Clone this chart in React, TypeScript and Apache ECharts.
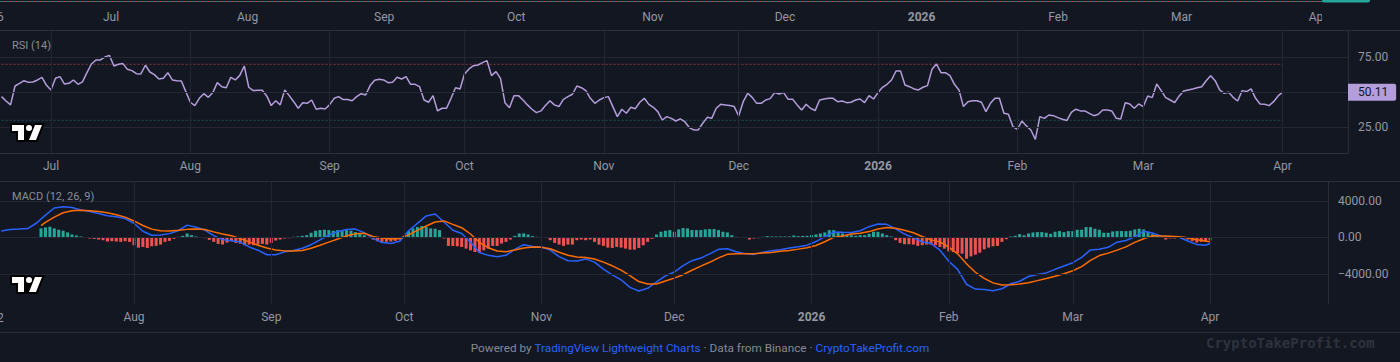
import React, { useEffect, useRef } from 'react';
import * as echarts from 'echarts';

const DAY = 86400000;
const ts = (s: string) => Date.parse(s + 'T00:00:00Z');

// ---------- RSI (14), daily from 2025-06-20 ----------
const RSI_START = '2025-06-20';
const rsiValues = [
  46.9, 43.8, 41.0, 54.5, 56.4, 58.3, 57.1, 57.4, 58.8, 60.7,
  55.0, 51.7, 60.0, 61.2, 55.9, 56.4, 58.8, 55.7, 57.4, 64.0,
  70.2, 73.1, 73.1, 75.2, 76.4, 68.8, 70.0, 70.5, 66.4, 65.5,
  63.3, 63.1, 69.3, 64.5, 62.6, 59.5, 60.0, 64.0, 58.8, 58.3,
  58.1, 50.5, 42.9, 40.5, 45.7, 49.0, 46.4, 49.8, 56.9, 54.0,
  53.3, 60.7, 58.8, 62.1, 68.8, 53.6, 51.2, 51.4, 51.4, 47.4,
  40.5, 44.0, 41.0, 51.7, 47.6, 43.3, 38.6, 42.6, 42.1, 44.5,
  37.9, 38.6, 38.1, 41.2, 45.7, 46.9, 44.8, 44.8, 44.0, 46.9,
  49.0, 48.1, 54.8, 58.6, 59.3, 58.8, 56.9, 57.1, 60.7, 59.5,
  61.2, 55.7, 55.7, 54.0, 44.5, 42.9, 47.6, 36.7, 38.6, 38.6,
  45.7, 53.3, 52.4, 63.1, 66.7, 69.0, 69.5, 71.2, 72.6, 61.9,
  64.8, 60.0, 42.6, 39.0, 47.6, 47.6, 44.5, 41.0, 37.9, 35.5,
  36.7, 40.5, 44.0, 41.0, 39.8, 45.0, 46.9, 48.6, 54.5, 53.3,
  51.2, 45.7, 42.1, 44.5, 46.2, 46.9, 39.8, 32.6, 37.9, 35.0,
  39.3, 38.3, 42.9, 45.7, 41.4, 39.3, 36.2, 30.2, 32.6, 31.4,
  29.5, 31.0, 29.0, 24.8, 23.1, 23.1, 27.9, 32.1, 31.4, 38.6,
  41.4, 41.0, 40.5, 39.8, 33.1, 43.3, 49.3, 46.4, 42.1, 42.1,
  44.5, 45.5, 49.8, 48.8, 49.8, 45.0, 45.0, 41.0, 37.4, 41.4,
  38.6, 36.9, 44.5, 45.2, 45.7, 45.7, 43.3, 43.8, 42.6, 42.9,
  44.5, 45.2, 42.6, 47.6, 45.2, 49.8, 53.6, 55.7, 58.8, 65.2,
  65.2, 55.2, 54.0, 52.4, 51.7, 53.6, 54.8, 66.4, 70.2, 64.0,
  64.0, 61.9, 55.7, 51.7, 39.8, 43.3, 44.0, 44.0, 42.9, 36.2,
  42.1, 45.7, 45.7, 35.0, 34.3, 25.5, 23.6, 29.5, 26.0, 23.1,
  16.4, 32.6, 31.4, 33.8, 33.3, 31.9, 30.7, 29.8, 35.7, 37.9,
  36.7, 36.7, 35.0, 33.3, 34.3, 37.4, 37.4, 36.7, 31.4, 31.0,
  42.6, 41.7, 38.6, 41.7, 39.8, 47.4, 46.2, 55.9, 51.2, 46.2,
  44.5, 42.6, 47.4, 50.9, 51.7, 52.4, 53.3, 54.0, 58.3, 61.9,
  58.3, 51.7, 49.3, 50.0, 46.4, 43.8, 51.2, 50.5, 52.4, 45.7,
  41.7, 41.4, 40.5, 43.3, 47.4, 50.11,
];
const RSI_OVERBOUGHT = 70;
const RSI_OVERSOLD = 30;
const rsiGridValues = [25, 50, 75];
const rsiLabelValues = [25, 75];

// ---------- MACD (12, 26, 9) ----------
const MACD_START = '2025-07-02';
// [days since MACD_START, value]
const macdLine: [number, number][] = [
  [0, 722], [2, 889], [4, 926], [6, 982], [8, 1593], [10, 2459], [12, 3245], [14, 3385], [16, 3304], [18, 3022],
  [20, 2859], [22, 2630], [24, 2400], [26, 2285], [28, 2082], [30, 1567], [32, 682], [34, 244], [36, 267], [38, 426],
  [40, 748], [42, 1359], [44, 1130], [46, 815], [48, 207], [50, -230], [52, -348], [54, -500], [56, -1037], [58, -1393],
  [60, -1896], [62, -1904], [64, -1578], [66, -1426], [68, -1178], [70, -789], [72, -259], [74, 267], [76, 663], [78, 889],
  [80, 926], [82, 541], [84, -93], [86, -556], [88, -648], [90, -419], [92, 737], [94, 1559], [96, 2371], [98, 2582],
  [100, 1708], [102, 800], [104, 444], [106, -522], [108, -1645], [110, -1963], [112, -2104], [114, -1956], [116, -1296], [118, -789],
  [120, -1000], [122, -1037], [124, -1389], [126, -2096], [128, -2556], [130, -2571], [132, -2352], [134, -2711], [136, -3485], [138, -4108],
  [140, -4649], [142, -5486], [144, -5878], [146, -5586], [148, -4867], [150, -4223], [152, -3797], [154, -3100], [156, -2548], [158, -2259],
  [160, -1800], [162, -1304], [164, -1230], [166, -1570], [168, -1771], [170, -1856], [172, -1608], [174, -1463], [176, -1345], [178, -1159],
  [180, -1011], [182, -841], [184, -444], [186, 89], [188, 596], [190, 567], [192, 548], [194, 741], [196, 1189], [198, 1489],
  [200, 1445], [202, 952], [204, 382], [206, -37], [208, -467], [210, -667], [212, -1396], [214, -2611], [216, -3508], [218, -5137],
  [220, -5667], [222, -5715], [224, -5845], [226, -5634], [228, -5082], [230, -4811], [232, -4289], [234, -4060], [236, -3889], [238, -3497],
  [240, -3134], [242, -2771], [244, -2189], [246, -1363], [248, -1289], [250, -1082], [252, -515], [254, -326], [256, 63], [258, 696],
  [260, 489], [262, 148], [264, 74], [266, 22], [268, -389], [270, -778], [272, -852], [273, -667],
];
const signalLine: [number, number][] = [
  [9, 1296], [10, 1652], [12, 2245], [14, 2715], [16, 2941], [18, 2997], [20, 2945], [22, 2867], [24, 2719], [26, 2496],
  [28, 2237], [30, 1819], [32, 1322], [34, 919], [36, 737], [38, 704], [40, 796], [42, 893], [44, 926], [46, 870],
  [48, 619], [50, 396], [52, 204], [54, -122], [56, -478], [58, -848], [60, -1156], [62, -1374], [64, -1470], [66, -1482],
  [68, -1419], [70, -1189], [72, -852], [74, -507], [76, -167], [78, 181], [80, 411], [82, 463], [84, 119], [86, -59],
  [88, -156], [90, -115], [92, 289], [94, 778], [96, 1259], [98, 1704], [100, 1822], [102, 1445], [104, 1074], [106, 385],
  [108, -526], [110, -1122], [112, -1489], [114, -1563], [116, -1385], [118, -1148], [120, -1037], [122, -1063], [124, -1233], [126, -1615],
  [128, -1959], [130, -2148], [132, -2196], [134, -2370], [136, -2704], [138, -3111], [140, -3582], [142, -4182], [144, -4837], [146, -5104],
  [148, -5112], [150, -4786], [152, -4467], [154, -4086], [156, -3597], [158, -3141], [160, -2726], [162, -2234], [164, -1852], [166, -1778],
  [168, -1778], [170, -1778], [172, -1711], [174, -1648], [176, -1508], [178, -1419], [180, -1278], [182, -1119], [184, -874], [186, -463],
  [188, 11], [190, 163], [192, 393], [194, 456], [196, 648], [198, 941], [200, 1111], [202, 1022], [204, 804], [206, 519],
  [208, 111], [210, -263], [212, -482], [214, -1067], [216, -1796], [218, -2885], [220, -3819], [222, -4493], [224, -4986], [226, -5223],
  [228, -5182], [230, -5115], [232, -4967], [234, -4741], [236, -4497], [238, -4252], [240, -3982], [242, -3652], [244, -3193], [246, -2511],
  [248, -1982], [250, -1715], [252, -1385], [254, -1033], [256, -541], [258, -137], [260, 181], [262, 178], [264, 130], [266, 78],
  [268, -19], [270, -241], [272, -389], [273, -482],
];
const HIST_START = '2025-07-11';
const histValues = [
  1000, 1111, 1185, 1000, 852, 741, 556, 333, 222, 111,
  37, -111, -148, -222, -296, -444, -407, -444, -481, -407,
  -481, -852, -1111, -1037, -1148, -963, -926, -778, -481, -370,
  -148, 74, 185, 444, 259, 111, 37, -74, -259, -481,
  -704, -778, -556, -407, -593, -667, -852, -778, -852, -778,
  -704, -778, -593, -333, -222, -111, -74, 74, 111, 185,
  259, 519, 741, 815, 852, 815, 741, 815, 704, 815,
  741, 593, 444, 259, 37, -222, -407, -481, -481, -444,
  -370, -222, 111, 704, 1000, 1148, 1259, 1148, 1000, 963,
  815, -111, -926, -926, -963, -1037, -1222, -1407, -1593, -1667,
  -1407, -1222, -926, -926, -667, -481, -222, 185, 444, 444,
  333, 148, 74, 37, 37, -296, -593, -778, -926, -778,
  -778, -296, -222, -296, -222, -481, -778, -926, -1111, -1148,
  -1037, -1111, -1222, -1333, -1333, -1148, -852, -481, -148, 333,
  630, 741, 815, 630, 889, 1037, 1000, 815, 815, 815,
  889, 926, 926, 815, 630, 556, 259, 74, 37, 20,
  -222, -111, -74, 74, 148, 111, 111, 111, 111, 111,
  222, 148, 185, 185, 259, 333, 444, 556, 815, 815,
  556, 444, 259, 259, 185, 259, 259, 407, 630, 630,
  444, 259, 111, -296, -593, -741, -741, -778, -926, -852,
  -778, -778, -852, -1037, -1222, -1519, -1593, -1704, -1778, -2333,
  -2074, -1889, -1667, -1296, -1111, -963, -926, -481, -185, 111,
  185, 370, 259, 444, 556, 593, 593, 519, 407, 630,
  704, 593, 704, 704, 852, 852, 1148, 1148, 963, 852,
  519, 519, 667, 704, 704, 704, 741, 889, 963, 889,
  630, 370, 259, 185, -222, -111, -111, -20, -111, -222,
  -407, -556, -481, -481, -333,
];
const macdTickValues = [-4000, 0, 4000];

// ---------- time axis ticks ----------
const monthTicks = [
  '2025-07-01', '2025-08-01', '2025-09-01', '2025-10-01', '2025-11-01',
  '2025-12-01', '2026-01-01', '2026-02-01', '2026-03-01', '2026-04-01',
];
const monthLabels = ['Jul', 'Aug', 'Sep', 'Oct', 'Nov', 'Dec', '2026', 'Feb', 'Mar', 'Apr'];

// ---------- style ----------
const BG = '#131722';
const GRID = '#242733';
const BORDER = '#2a2e39';
const TEXT = '#9598a1';
const LEGEND = '#8a8d97';
const RSI_COLOR = '#b39ddb';
const TEAL = '#26a69a';
const RED = '#ef5350';
const BLUE = '#2962ff';
const ORANGE = '#ff6d00';
const FONT = 'Roboto, "Liberation Sans", Arial, sans-serif';

const TV_RING =
  'M2 0H0v10h6v9h21.4l.5-1.3 6-15 1-2.7H23.7l-.5 1.3-.2.6a5 5 0 0 0-7-.9V0H2Zm20 17h4l5.2-13 .8-2h-7l-1 2.5-.2.5-1.5 3.8-.3.7V17Zm-.8-10a3 3 0 0 0 .7-2.7A3 3 0 1 0 16.8 7h4.4ZM14 7V2H2v6h6v9h4V7h2Z';
const TV_FILL = 'M14 2H2v6h6v9h6V2Zm12 15h-7l6-15h7l-6 15Zm-7-9a3 3 0 1 0 0-6 3 3 0 0 0 0 6Z';
echarts.graphic.registerShape('tvRing', echarts.graphic.extendPath(TV_RING, {}));
echarts.graphic.registerShape('tvFill', echarts.graphic.extendPath(TV_FILL, {}));

const monthTs = monthTicks.map(ts);
const monthFormatter = (v: number) => {
  let best = -1;
  let bestD = Infinity;
  monthTs.forEach((t, i) => {
    const d = Math.abs(t - v);
    if (d < bestD) { bestD = d; best = i; }
  });
  const label = best >= 0 && bestD < DAY ? monthLabels[best] : '';
  return /^\d{4}$/.test(label) ? `{b|${label}}` : label;
};
const timeLabel = (margin: number, values: number[]) => ({
  customValues: values,
  formatter: monthFormatter,
  color: TEXT,
  fontSize: 12,
  fontFamily: FONT,
  margin,
  rich: { b: { fontWeight: 'bold', color: TEXT, fontSize: 12, fontFamily: FONT } },
});
const gridLineStyle = { color: GRID, width: 1, type: 'solid' };
const gridMarkLine = (xs: number[], ys: number[]) => ({
  silent: true,
  symbol: 'none',
  label: { show: false },
  lineStyle: gridLineStyle,
  data: [...xs.map((x) => ({ xAxis: x })), ...ys.map((y) => ({ yAxis: y }))],
});

function buildOption(): any {
  const rsiStart = ts(RSI_START);
  const macdStart = ts(MACD_START);
  const histStart = ts(HIST_START);

  const rsiData = rsiValues.map((v, i) => [rsiStart + i * DAY, v]);
  const rsiFirst = rsiStart;
  const rsiLast = rsiStart + (rsiValues.length - 1) * DAY;
  const rsiLastValue = rsiValues[rsiValues.length - 1];

  const macdData = macdLine.map(([d, v]) => [macdStart + d * DAY, v]);
  const signalData = signalLine.map(([d, v]) => [macdStart + d * DAY, v]);
  const histData = histValues.map((v, i) => ({
    value: [histStart + i * DAY, v],
    itemStyle: { color: v >= 0 ? TEAL : RED },
  }));

  // visible ranges (about 300 daily bars in each pane)
  const topMin = ts('2025-07-01') - 25.2 * DAY;
  const topMax = topMin + 300.1 * DAY;
  const rsiMin = rsiStart - 0.345 * DAY;
  const rsiMax = rsiMin + 299.9 * DAY;
  const macdMin = macdStart - 0.262 * DAY;
  const macdMax = macdMin + 299.9 * DAY;

  const macdMonths = monthTs.filter((t) => t > macdMin);

  const gridBase = { left: 0, containLabel: false, outerBoundsMode: 'none' };

  return {
    animation: false,
    backgroundColor: BG,
    textStyle: { fontFamily: FONT },
    grid: [
      { ...gridBase, top: 0, width: 1322, height: 2 },
      { ...gridBase, top: 30, width: 1348, height: 123 },
      { ...gridBase, top: 181.5, width: 1328, height: 122.5 },
    ],
    xAxis: [
      {
        type: 'value', gridIndex: 0, min: topMin, max: topMax, scale: true,
        axisLine: { show: false }, axisTick: { show: false, customValues: monthTs },
        splitLine: { show: false },
        axisLabel: timeLabel(9, monthTs),
      },
      {
        type: 'value', gridIndex: 1, min: rsiMin, max: rsiMax, scale: true,
        axisLine: { show: true, lineStyle: { color: BORDER, width: 1 } },
        axisTick: { show: false, customValues: monthTs },
        splitLine: { show: false },
        axisLabel: timeLabel(7, monthTs),
      },
      {
        type: 'value', gridIndex: 2, min: macdMin, max: macdMax, scale: true,
        axisLine: { show: true, lineStyle: { color: BORDER, width: 1 } },
        axisTick: { show: false, customValues: macdMonths },
        splitLine: { show: false },
        axisLabel: timeLabel(7, macdMonths),
      },
    ],
    yAxis: [
      { type: 'value', gridIndex: 0, min: 0, max: 100, show: false },
      {
        type: 'value', gridIndex: 1, position: 'right', min: 6.64, max: 94.5,
        axisLine: { show: true, lineStyle: { color: BORDER, width: 1 } },
        axisTick: { show: false, customValues: rsiGridValues },
        splitLine: { show: false },
        axisLabel: {
          customValues: rsiLabelValues,
          formatter: (v: number) => v.toFixed(2),
          color: TEXT, fontSize: 12, fontFamily: FONT, margin: 10,
        },
      },
      {
        type: 'value', gridIndex: 2, position: 'right', min: -7308, max: 6154,
        axisLine: { show: true, lineStyle: { color: BORDER, width: 1 } },
        axisTick: { show: false, customValues: macdTickValues },
        splitLine: { show: false },
        axisLabel: {
          customValues: macdTickValues,
          formatter: (v: number) => (v < 0 ? '\u2212' : '') + Math.abs(v).toFixed(2),
          color: TEXT, fontSize: 12, fontFamily: FONT, margin: 10,
        },
      },
    ],
    series: [
      // top pane: price lines at its lower edge
      {
        type: 'line', xAxisIndex: 0, yAxisIndex: 0, data: [], silent: true,
        markLine: {
          silent: true, symbol: 'none', label: { show: false },
          data: [
            { yAxis: 50, lineStyle: { color: TEAL, type: [3, 3], width: 1, opacity: 0.75 } },
            { yAxis: 50, lineStyle: { color: RED, type: [3, 3], dashOffset: 3, width: 1, opacity: 0.75 } },
          ],
        },
      },
      // RSI grid lines
      {
        type: 'line', xAxisIndex: 1, yAxisIndex: 1, data: [], silent: true,
        markLine: gridMarkLine(monthTs, rsiGridValues),
      },
      {
        type: 'line', xAxisIndex: 1, yAxisIndex: 1, silent: true, symbol: 'none',
        data: [[rsiFirst, RSI_OVERBOUGHT], [rsiLast, RSI_OVERBOUGHT]],
        lineStyle: { color: 'rgba(239,83,80,0.55)', width: 1, type: [2, 2] },
      },
      {
        type: 'line', xAxisIndex: 1, yAxisIndex: 1, silent: true, symbol: 'none',
        data: [[rsiFirst, RSI_OVERSOLD], [rsiLast, RSI_OVERSOLD]],
        lineStyle: { color: 'rgba(38,166,154,0.4)', width: 1, type: [2, 2] },
      },
      {
        type: 'line', xAxisIndex: 1, yAxisIndex: 1, silent: true, symbol: 'none',
        data: rsiData,
        lineStyle: { color: RSI_COLOR, width: 1.5 },
        markLine: {
          silent: true, symbol: 'none',
          lineStyle: { color: 'rgba(0,0,0,0)', width: 1, type: 'solid' },
          label: {
            show: true, position: 'end', distance: 0,
            formatter: () => rsiLastValue.toFixed(2),
            backgroundColor: RSI_COLOR, color: BG, fontSize: 12, fontFamily: FONT,
            padding: [3, 8, 2, 10], borderRadius: [0, 2, 2, 0],
          },
          data: [{ yAxis: rsiLastValue }],
        },
      },
      // MACD grid lines
      {
        type: 'line', xAxisIndex: 2, yAxisIndex: 2, data: [], silent: true,
        markLine: gridMarkLine(macdMonths, macdTickValues),
      },
      {
        type: 'bar', xAxisIndex: 2, yAxisIndex: 2, silent: true, barWidth: 3,
        data: histData,
      },
      {
        type: 'line', xAxisIndex: 2, yAxisIndex: 2, silent: true, symbol: 'none',
        data: macdData, lineStyle: { color: BLUE, width: 1.5 },
      },
      {
        type: 'line', xAxisIndex: 2, yAxisIndex: 2, silent: true, symbol: 'none',
        data: signalData, lineStyle: { color: ORANGE, width: 1.5 },
      },
    ],
    graphic: [
      // pane separators
      { type: 'line', silent: true, z: 50, shape: { x1: 0, y1: 30.5, x2: 1400, y2: 30.5 }, style: { stroke: BORDER, lineWidth: 1 } },
      { type: 'line', silent: true, z: 50, shape: { x1: 0, y1: 181.5, x2: 1400, y2: 181.5 }, style: { stroke: BORDER, lineWidth: 1 } },
      { type: 'line', silent: true, z: 50, shape: { x1: 0, y1: 332.5, x2: 1400, y2: 332.5 }, style: { stroke: BORDER, lineWidth: 1 } },
      // clip of the top time axis at its price scale
      { type: 'rect', silent: true, z: 40, shape: { x: 1322, y: 4, width: 78, height: 26 }, style: { fill: BG } },
      { type: 'rect', silent: true, z: 41, shape: { x: 1322, y: -4, width: 48, height: 6.5, r: 2 }, style: { fill: TEAL } },
      // clipped labels at the left edge
      { type: 'text', silent: true, z: 41, x: -3, y: 17, style: { text: '6', fill: TEXT, fontSize: 12, fontFamily: FONT, verticalAlign: 'middle' } },
      { type: 'text', silent: true, z: 41, x: -3, y: 318, style: { text: '2', fill: TEXT, fontSize: 12, fontFamily: FONT, verticalAlign: 'middle' } },
      // legends
      { type: 'text', silent: true, z: 60, x: 12, y: 45, style: { text: 'RSI (14)', fill: LEGEND, fontSize: 11, fontFamily: FONT, verticalAlign: 'middle' } },
      { type: 'text', silent: true, z: 60, x: 12, y: 196, style: { text: 'MACD (12, 26, 9)', fill: LEGEND, fontSize: 11, fontFamily: FONT, verticalAlign: 'middle' } },
      // attribution logos
      { type: 'tvRing', silent: true, z: 60, x: 10, y: 123, style: { fill: '#000000' } },
      { type: 'tvFill', silent: true, z: 61, x: 10, y: 123, style: { fill: '#ffffff' } },
      { type: 'tvRing', silent: true, z: 60, x: 10, y: 275, style: { fill: '#000000' } },
      { type: 'tvFill', silent: true, z: 61, x: 10, y: 275, style: { fill: '#ffffff' } },
      // footer
      {
        type: 'text', silent: true, z: 60, x: 700, y: 348,
        style: {
          text: '{g|Powered by }{b|TradingView Lightweight Charts}{g| \u00b7 Data from Binance \u00b7 }{b|CryptoTakeProfit.com}',
          align: 'center', verticalAlign: 'middle', fontSize: 11.75, fontFamily: FONT,
          rich: {
            g: { fill: '#868993', fontSize: 11.75, fontFamily: FONT },
            b: { fill: BLUE, fontSize: 11.75, fontFamily: FONT },
          },
        },
      },
      {
        type: 'text', silent: true, z: 60, x: 1206, y: 343,
        style: {
          text: 'CryptoTakeProfit.com', fill: '#2e323d', fontSize: 14, fontWeight: 'bold',
          fontFamily: '"DejaVu Sans Mono", monospace', verticalAlign: 'middle',
        },
      },
    ],
  };
}

export default function App() {
  const ref = useRef<HTMLDivElement>(null);
  useEffect(() => {
    document.body.style.margin = '0';
    document.body.style.background = BG;
    const chart = echarts.init(ref.current as HTMLDivElement, undefined, { renderer: 'svg' });
    chart.setOption(buildOption());
    return () => chart.dispose();
  }, []);
  return <div ref={ref} style={{ width: 1400, height: 362, background: BG }} />;
}
